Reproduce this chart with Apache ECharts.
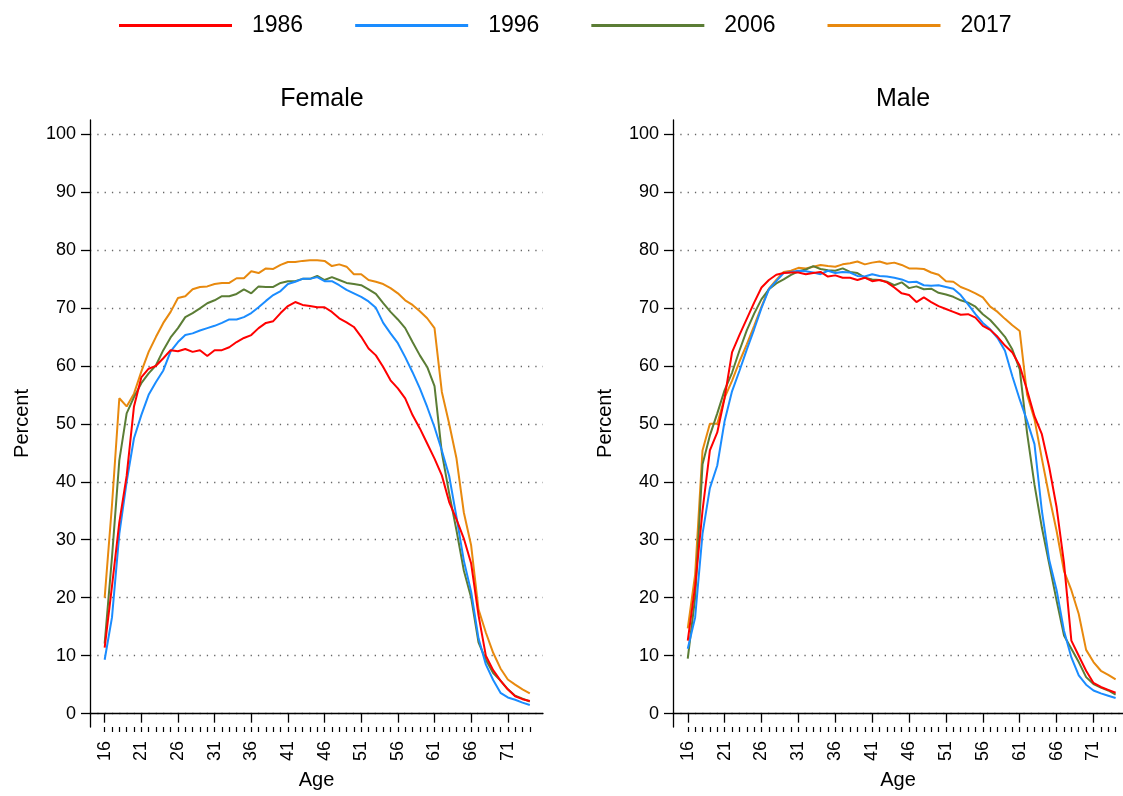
<!DOCTYPE html>
<html>
<head>
<meta charset="utf-8">
<title>Employment rate by age</title>
<script src="https://cdn.jsdelivr.net/npm/echarts@6/dist/echarts.min.js"></script>
<style>
  html, body { margin: 0; padding: 0; background: #fff; }
  #chart { width: 1123px; height: 796px; }
</style>
</head>
<body>
<div id="chart"></div>
<script>
// Ages on the horizontal axis
const ages = [16,17,18,19,20,21,22,23,24,25,26,27,28,29,30,31,32,33,34,35,
  36,37,38,39,40,41,42,43,44,45,46,47,48,49,50,51,52,53,54,55,
  56,57,58,59,60,61,62,63,64,65,66,67,68,69,70,71,72,73,74];

const years = ['1986', '1996', '2006', '2017'];
const colors = ['#ff0000', '#1a8cff', '#5b7d35', '#e8890e'];

// Female, percent by age
const female1986 = [11.4,22,33,41,53,58,59.5,60,61.3,62.7,
  62.5,62.9,62.4,62.7,61.7,62.7,62.7,63.2,64.1,64.8,
  65.3,66.5,67.4,67.7,69.1,70.3,71.0,70.5,70.3,70.1,
  70.1,69.3,68.2,67.5,66.7,65.0,63.0,61.8,59.8,57.5,
  56.1,54.4,51.5,49.2,46.6,44.0,41.1,36.5,33.5,30.2,
  25.9,17,10,7.5,5.7,4.2,3.0,2.5,2.2];
const female1996 = [9.3,16.6,31,40,47.5,51.5,55,57.2,59.2,62.5,
  64.1,65.3,65.6,66.1,66.5,66.9,67.4,68.0,68.0,68.4,
  69.1,70.1,71.2,72.2,72.9,74.1,74.5,75.0,75.0,75.3,
  74.6,74.6,73.9,73.1,72.5,71.9,71.1,70.0,67.4,65.6,
  63.9,61.5,58.9,56.1,52.9,49.4,45.4,41,33.9,26.4,
  21,13,8.5,5.8,3.6,2.8,2.4,1.9,1.5];
const female2006 = [12.1,27,43.7,51.8,54.6,57,58.7,60.1,62.7,64.9,
  66.5,68.4,69.1,69.9,70.8,71.3,72.0,72.0,72.4,73.2,
  72.5,73.7,73.6,73.6,74.3,74.6,74.6,75.0,75.0,75.5,
  74.8,75.3,74.8,74.3,74.1,73.9,73.2,72.4,70.8,69.3,
  68.0,66.5,64.1,61.8,59.8,56.5,45,38,31.6,24.7,
  20,12.3,9.3,7,5.7,4.2,3.1,2.6,2.1];
const female2017 = [20,36,54.4,53,55.2,59,62.4,65,67.4,69.3,
  71.7,72,73.2,73.6,73.7,74.1,74.3,74.3,75.1,75.1,
  76.3,76.0,76.8,76.7,77.4,77.9,77.9,78.1,78.2,78.2,
  78.1,77.2,77.5,77.1,75.8,75.8,74.8,74.5,74.1,73.4,
  72.5,71.3,70.5,69.4,68.2,66.5,55.5,50,44,34.7,
  29,18,14,10.5,7.8,5.9,5.0,4.2,3.5];

// Male, percent by age
const male1986 = [12.6,22,35,45.4,48.5,54.5,62.3,65.3,68.1,70.9,
  73.5,74.8,75.7,76.0,76.1,76.1,75.8,76.0,76.2,75.4,
  75.6,75.2,75.2,74.8,75.2,74.6,74.8,74.4,73.5,72.5,
  72.2,71.0,71.8,71.0,70.3,69.8,69.3,68.8,68.9,68.3,
  66.9,66.2,65.0,63.5,62.3,60.0,55.8,51.3,48.2,42.5,
  35.6,26,12.6,10.0,7.4,5.3,4.6,4.1,3.6];
const male1996 = [11.2,16.6,31,38.9,42.8,50.5,55.6,59.1,62.8,66.3,
  70.0,73.2,74.6,76.0,76.2,76.4,76.3,76.1,75.8,76.4,
  76.0,76.2,76.1,75.5,75.4,75.8,75.5,75.4,75.2,74.9,
  74.4,74.5,73.9,73.8,73.9,73.6,73.3,72.2,70.6,68.9,
  67.4,66.3,64.8,62.6,58.2,54.2,50.5,46.5,35,26.5,
  21.3,14.3,9.7,6.6,5.0,4.0,3.5,3.1,2.7];
const male2006 = [9.5,20,43,48,51.8,55.8,58.8,62.6,66.1,69.0,
  71.5,73.2,74.2,74.9,75.7,76.3,76.6,77.2,76.7,76.5,
  76.4,76.8,76.2,76.0,75.2,74.9,74.8,74.5,73.9,74.4,
  73.4,73.7,73.2,73.3,72.6,72.3,71.9,71.3,70.9,70.2,
  68.9,67.9,66.5,65.0,62.8,59.4,48.4,39.5,32.1,25.8,
  19.5,13.5,11.2,8.9,6.3,5.1,4.5,4.0,3.3];
const male2017 = [14.7,24,45.4,50,50,54.5,57.4,60.7,63.7,66.9,
  70.2,73.3,74.8,76.2,76.4,76.9,76.8,77.1,77.4,77.2,
  77.1,77.5,77.7,78.0,77.5,77.8,78.0,77.6,77.8,77.4,
  76.8,76.8,76.7,76.1,75.7,74.6,74.5,73.6,73.1,72.5,
  71.8,70.2,69.3,68.1,67.0,66.0,55,50.8,44,37.5,
  31.5,24.6,21.3,17.2,11,8.9,7.4,6.7,5.9];

// Tick labels
const ageTicks = [16,21,26,31,36,41,46,51,56,61,66,71];
const ageMinorTicks = ages;
const percentTicks = [0,10,20,30,40,50,60,70,80,90,100];

const femaleSeries = [female1986, female1996, female2006, female2017];
const maleSeries = [male1986, male1996, male2006, male2017];

const FONT = 'Liberation Sans, Arial, sans-serif';

function pairs(values) {
  return ages.map((a, i) => [a, values[i]]);
}

function majorX(gridIndex, max) {
  return {
    type: 'value', gridIndex, min: 14, max, position: 'bottom',
    name: 'Age', nameLocation: 'middle', nameGap: 43,
    nameTextStyle: { fontFamily: FONT, fontSize: 20, color: '#000' },
    axisLine: { show: true, lineStyle: { color: '#000', width: 1.3 } },
    axisTick: { show: true, customValues: ageTicks, length: 9, lineStyle: { color: '#000', width: 1.3 } },
    axisLabel: { customValues: ageTicks, rotate: 90, margin: 14, fontFamily: FONT, fontSize: 18, color: '#000' },
    splitLine: { show: false }
  };
}
function minorX(gridIndex, max) {
  return {
    type: 'value', gridIndex, min: 14, max, position: 'bottom',
    axisLine: { show: false },
    axisTick: { show: true, customValues: ageMinorTicks, length: 5, lineStyle: { color: '#000', width: 1.2 } },
    axisLabel: { show: false },
    splitLine: { show: false }
  };
}
function percentY(gridIndex) {
  return {
    type: 'value', gridIndex, min: -2.3, max: 102.4,
    name: 'Percent', nameLocation: 'middle', nameGap: 58, nameRotate: 90,
    nameTextStyle: { fontFamily: FONT, fontSize: 20, color: '#000' },
    axisLine: { show: true, lineStyle: { color: '#000', width: 1.3 } },
    axisTick: { show: true, customValues: percentTicks, length: 9, lineStyle: { color: '#000', width: 1.3 } },
    axisLabel: { customValues: percentTicks, margin: 14, fontFamily: FONT, fontSize: 18, color: '#000' },
    splitLine: { show: true, lineStyle: { color: '#666', width: 1.3, type: [1.3, 6] } }
  };
}

const series = [];
years.forEach((y, k) => {
  series.push({
    name: y, type: 'line', xAxisIndex: 0, yAxisIndex: 0,
    data: pairs(femaleSeries[k]), showSymbol: false, symbol: 'none',
    lineStyle: { color: colors[k], width: 2 }, itemStyle: { color: colors[k] },
    z: 10 - k
  });
  series.push({
    name: y, type: 'line', xAxisIndex: 2, yAxisIndex: 1,
    data: pairs(maleSeries[k]), showSymbol: false, symbol: 'none',
    lineStyle: { color: colors[k], width: 2 }, itemStyle: { color: colors[k] },
    z: 10 - k
  });
});

const chart = echarts.init(document.getElementById('chart'), null, { renderer: 'canvas' });
chart.setOption({
  animation: false,
  backgroundColor: '#fff',
  color: colors,
  textStyle: { fontFamily: FONT },
  title: [
    { text: 'Female', left: 317, top: 82, textAlign: 'center',
      textStyle: { fontFamily: FONT, fontSize: 25, fontWeight: 'normal', color: '#000' } },
    { text: 'Male', left: 898, top: 82, textAlign: 'center',
      textStyle: { fontFamily: FONT, fontSize: 25, fontWeight: 'normal', color: '#000' } }
  ],
  legend: {
    data: years, left: 119, top: 14, padding: 0, icon: 'rect',
    itemWidth: 113, itemHeight: 3, itemGap: 52,
    textStyle: { fontFamily: FONT, fontSize: 23, color: '#000', padding: [0, 0, 0, 15] }
  },
  grid: [
    { left: 90, top: 120, width: 453, bottom: 69 },
    { left: 673, top: 120, right: 0, bottom: 69 }
  ],
  xAxis: [majorX(0, 75.8), minorX(0, 75.8), majorX(1, 75.0), minorX(1, 75.0)],
  yAxis: [percentY(0), percentY(1)],
  series
});
</script>
</body>
</html>
